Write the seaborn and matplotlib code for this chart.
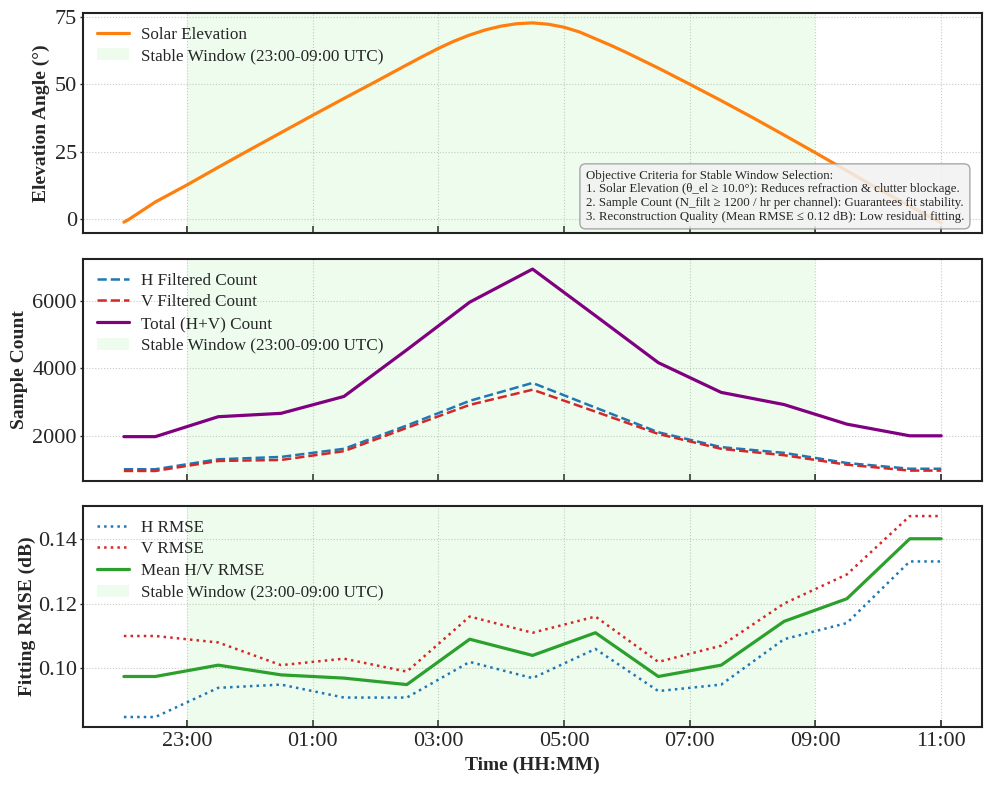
import pandas as pd
import matplotlib
matplotlib.use("Agg")
import matplotlib.pyplot as plt
import matplotlib.dates as mdates
from matplotlib.ticker import MultipleLocator
import seaborn as sns

# ---- data ----
day1 = "2024-06-01 "
day2 = "2024-06-02 "

# solar elevation track (deg)
elev_times = ["22:00", "22:05", "22:30", "23:00", "23:30", "00:00", "00:30", "01:00",
              "01:30", "02:00", "02:30", "02:45", "03:00", "03:15", "03:30", "03:45",
              "04:00", "04:15", "04:30", "04:45", "05:00", "05:15", "05:30", "05:45",
              "06:00", "06:30", "07:00", "07:30", "08:00", "08:30", "09:00", "09:30",
              "10:00", "10:30", "11:00"]
elev_values = [-1.2, -0.1, 6.3, 12.6, 19.2, 25.7, 32.1, 38.5,
               44.8, 51.0, 57.3, 60.4, 63.4, 66.1, 68.4, 70.3,
               71.7, 72.6, 72.9, 72.4, 71.3, 69.5, 67.0, 64.5,
               61.8, 56.1, 50.1, 44.0, 37.7, 31.2, 24.6, 17.9,
               11.2, 4.8, -1.5]

# hourly statistics
hour_times = ["22:00", "22:30", "23:30", "00:30", "01:30", "02:30", "03:30", "04:30",
              "05:30", "06:30", "07:30", "08:30", "09:30", "10:30", "11:00"]
h_count = [1015, 1015, 1310, 1380, 1620, 2310, 3040, 3570,
           2840, 2110, 1670, 1500, 1200, 1030, 1030]
v_count = [965, 965, 1260, 1290, 1550, 2240, 2920, 3370,
           2720, 2060, 1620, 1430, 1150, 975, 975]
h_rmse = [0.085, 0.085, 0.094, 0.095, 0.091, 0.091, 0.102, 0.097,
          0.106, 0.093, 0.095, 0.109, 0.114, 0.133, 0.133]
v_rmse = [0.110, 0.110, 0.108, 0.101, 0.103, 0.099, 0.116, 0.111,
          0.116, 0.102, 0.107, 0.120, 0.129, 0.147, 0.147]

window_start = day1 + "23:00"
window_end = day2 + "09:00"
window_label = "Stable Window (23:00-09:00 UTC)"


def to_dt(times):
    out = []
    for t in times:
        prefix = day1 if int(t[:2]) >= 22 else day2
        out.append(pd.Timestamp(prefix + t))
    return pd.Series(out)


elev = pd.DataFrame({"time": to_dt(elev_times), "elev": elev_values})
stats = pd.DataFrame({"time": to_dt(hour_times), "h": h_count, "v": v_count,
                      "h_rmse": h_rmse, "v_rmse": v_rmse})
stats["total"] = stats["h"] + stats["v"]
stats["mean_rmse"] = (stats["h_rmse"] + stats["v_rmse"]) / 2

# ---- style ----
sns.set_style("ticks")
plt.rcParams["font.family"] = ["Liberation Serif", "DejaVu Serif"]

fig = plt.figure(figsize=(9.92, 7.86), dpi=100)
left, width = 0.0837, 0.9063
ax1 = fig.add_axes([left, 0.7036, width, 0.280])
ax2 = fig.add_axes([left, 0.3880, width, 0.2825], sharex=ax1)
ax3 = fig.add_axes([left, 0.0750, width, 0.2812], sharex=ax1)

span_kw = dict(color="lightgreen", alpha=0.15, lw=0, label=window_label)

# panel 1: solar elevation
sns.lineplot(data=elev, x="time", y="elev", ax=ax1, color="tab:orange", lw=2.3,
             label="Solar Elevation")
ax1.axvspan(pd.Timestamp(window_start), pd.Timestamp(window_end), **span_kw)
ax1.set_ylabel("Elevation Angle (°)", labelpad=3)
ax1.yaxis.set_major_locator(MultipleLocator(25))
criteria = ("Objective Criteria for Stable Window Selection:\n"
            "1. Solar Elevation (θ_el ≥ 10.0°): Reduces refraction & clutter blockage.\n"
            "2. Sample Count (N_filt ≥ 1200 / hr per channel): Guarantees fit stability.\n"
            "3. Reconstruction Quality (Mean RMSE ≤ 0.12 dB): Low residual fitting.")
ax1.text(0.98, 0.045, criteria, transform=ax1.transAxes, ha="right", va="bottom",
         multialignment="left", fontsize=9.3, linespacing=1.2, zorder=5,
         bbox=dict(boxstyle="round,pad=0.45", fc="#f2f2f2", ec="#999999", alpha=0.85))

# panel 2: sample counts
sns.lineplot(data=stats, x="time", y="h", ax=ax2, color="tab:blue", lw=1.8,
             linestyle="--", label="H Filtered Count")
sns.lineplot(data=stats, x="time", y="v", ax=ax2, color="tab:red", lw=1.8,
             linestyle="--", label="V Filtered Count")
sns.lineplot(data=stats, x="time", y="total", ax=ax2, color="purple", lw=2.3,
             label="Total (H+V) Count")
ax2.axvspan(pd.Timestamp(window_start), pd.Timestamp(window_end), **span_kw)
ax2.set_ylabel("Sample Count", labelpad=3)
ax2.yaxis.set_major_locator(MultipleLocator(2000))

# panel 3: fitting RMSE
sns.lineplot(data=stats, x="time", y="h_rmse", ax=ax3, color="tab:blue", lw=1.8,
             linestyle=":", label="H RMSE")
sns.lineplot(data=stats, x="time", y="v_rmse", ax=ax3, color="tab:red", lw=1.8,
             linestyle=":", label="V RMSE")
sns.lineplot(data=stats, x="time", y="mean_rmse", ax=ax3, color="tab:green", lw=2.3,
             label="Mean H/V RMSE")
ax3.axvspan(pd.Timestamp(window_start), pd.Timestamp(window_end), **span_kw)
ax3.set_ylabel("Fitting RMSE (dB)", labelpad=1)
ax3.yaxis.set_major_locator(MultipleLocator(0.02))
ax3.set_xlabel("Time (HH:MM)", fontsize=14, fontweight="bold")

ax3.xaxis.set_major_locator(mdates.HourLocator(byhour=[23, 1, 3, 5, 7, 9, 11]))
ax3.xaxis.set_major_formatter(mdates.DateFormatter("%H:%M"))

for ax in (ax1, ax2, ax3):
    ax.yaxis.label.set_fontsize(14)
    ax.yaxis.label.set_fontweight("bold")
    ax.grid(True, linestyle=":", color="#bbbbbb", lw=0.8, alpha=0.8)
    ax.tick_params(axis="x", direction="in", length=5, width=1.2, labelsize=16)
    ax.tick_params(axis="y", direction="out", length=2.5, width=1.0, pad=2,
                   labelsize=16)
    for sp in ax.spines.values():
        sp.set_visible(True)
        sp.set_linewidth(1.5)
        sp.set_color("#222222")
    ax.legend(loc="upper left", frameon=False, fontsize=12.3, labelspacing=0.33,
              handlelength=1.9, handletextpad=0.7, borderaxespad=0.35,
              borderpad=0.45)
    if ax is not ax3:
        ax.set_xlabel("")
        plt.setp(ax.get_xticklabels(), visible=False)

fig.savefig("out.png", dpi=100)
